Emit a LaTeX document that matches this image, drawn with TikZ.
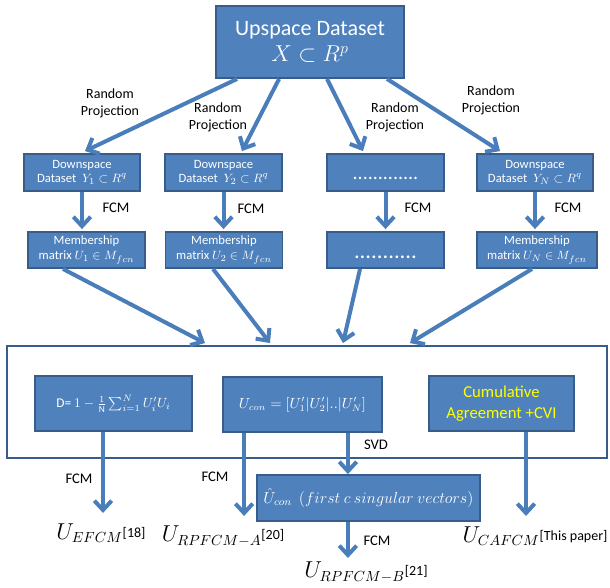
\documentclass[tikz,border=0pt]{standalone}
\usepackage{amsmath}
\usepackage{amssymb}
\usepackage{fontspec}
\setmainfont{Carlito}
\usepackage{tikz}
\usetikzlibrary{arrows.meta,calc}

\definecolor{boxfill}{RGB}{79,129,189}
\definecolor{boxline}{RGB}{56,93,138}
\definecolor{flowblue}{RGB}{74,126,187}
\definecolor{cviyellow}{RGB}{255,255,0}

\newcommand{\refmark}[1]{\raisebox{1.5pt}{\fontsize{10.5}{12}\selectfont[#1]}}

\begin{document}
\begin{tikzpicture}[x=0.75pt,y=0.75pt,yscale=-1,xscale=1,
  blk/.style={draw=boxline,fill=boxfill,line width=1.4pt,text=white,align=center,inner sep=0pt},
  dsbox/.style={blk,minimum width=87.5pt,minimum height=27.75pt,font=\fontsize{9.5}{10.5}\selectfont},
  mbox/.style={blk,minimum width=87.75pt,minimum height=27pt,font=\fontsize{9.5}{11}\selectfont},
  inbox/.style={blk,minimum height=41.25pt},
  flow/.style={draw=flowblue,line width=3pt,-{Straight Barb[length=7pt,width=13pt]}},
  lbl/.style={inner sep=0pt,align=center,text=black},
  rp/.style={lbl,font=\fontsize{10.5}{12.7}\selectfont},
  fcm/.style={lbl,font=\fontsize{11}{13}\selectfont},
  res/.style={lbl,font=\fontsize{16}{19}\selectfont}]
\useasboundingbox (0,0) rectangle (610,587);

%Shape: Rectangle
\node[blk,minimum width=141pt,minimum height=54pt,font=\fontsize{16.5}{20}\selectfont] (up) at (310,42) {Upspace Dataset\\$X\subset R^{p}$};

%Shape: Rectangle
\node[dsbox] (d1) at (82,172.5) {Downspace\\Dataset ~$Y_1\subset R^q$};
\node[dsbox] (d2) at (223.5,172.5) {Downspace\\Dataset ~$Y_2\subset R^q$};
\node[dsbox,font=\fontsize{15}{18}\selectfont] (d3) at (385.5,172.5) {\strut\raisebox{-2pt}{.............}};
\node[dsbox] (d4) at (535,172.5) {Downspace\\Dataset ~$Y_N\subset R^q$};

%Shape: Rectangle
\node[mbox] (m1) at (86.5,250) {Membership\\matrix $U_1\in M_{fcn}$};
\node[mbox] (m2) at (224,250) {Membership\\matrix $U_2\in M_{fcn}$};
\node[mbox,font=\fontsize{17}{20}\selectfont] (m3) at (385.5,250) {\strut\raisebox{-2pt}{...........}};
\node[mbox,minimum width=90pt] (m4) at (537,250) {Membership\\matrix $U_N\in M_{fcn}$};

%Shape: Rectangle
\node[draw=boxline,line width=1.4pt,fill=white,minimum width=450pt,minimum height=84pt,inner sep=0pt] (pool) at (307,402) {};
\node[inbox,minimum width=117.75pt,font=\fontsize{10}{12}\selectfont] (dbox) at (113.5,403.5) {D= $1-\frac{1}{\text{N}}\sum_{i=1}^{N}U_i'U_i$};
\node[inbox,minimum width=119.25pt,font=\fontsize{10.5}{12}\selectfont] (ucon) at (302.5,404.5) {$U_{con}=[U_1'|U_2'|..|U_N']$};
\node[inbox,minimum width=108.75pt,text=cviyellow,font=\fontsize{12.5}{16}\selectfont] (cum) at (501.5,403.5) {Cumulative\\Agreement +CVI};
\node[blk,minimum width=167.25pt,minimum height=34.5pt,font=\fontsize{11.5}{13}\selectfont] (hat) at (368.5,498) {$\hat{U}_{con}\ \ (first\ c\ singular\ vectors)$};

% Text Node
\node[rp] (rp1) at (110,103) {Random\\Projection};
\node[rp] (rp2) at (218,117) {Random\\Projection};
\node[rp] (rp3) at (395,117) {Random\\Projection};
\node[rp] (rp4) at (491,100) {Random\\Projection};
% Text Node
\node[fcm] (f1) at (116,208) {FCM};
\node[fcm] (f2) at (251,209) {FCM};
\node[fcm] (f3) at (418,208) {FCM};
\node[fcm] (f4) at (568,208) {FCM};
\node[fcm] (f5) at (79,479) {FCM};
\node[fcm] (f6) at (215,477) {FCM};
\node[fcm] (f7) at (377,541) {FCM};
\node[fcm] (svd) at (376,445) {SVD};
% Text Node
\node[res] (uefcm) at (101,533) {$U_{EFCM}$\refmark{18}};
\node[res] (urpa) at (223,536) {$U_{RPFCM-A}$\refmark{20}};
\node[res] (urpb) at (366,572) {$U_{RPFCM-B}$\refmark{21}};
\node[res] (ucaf) at (535,536) {$U_{CAFCM}$\refmark{This paper}};

%Straight Lines
\draw[flow] ($(up.south west)+(22,0)$) -- ($(d1.north)+(3,-2)$);
\draw[flow] ($(up.south west)+(64,0)$) -- ($(d2.north)+(18.5,-2)$);
\draw[flow] ($(up.south west)+(112,0)$) -- ($(d3.north)+(-22.5,-2)$);
\draw[flow] ($(up.south west)+(172,0)$) -- ($(d4.north)+(-35,-2)$);
%Straight Lines
\draw[flow] (d1.south) -- ($(d1.south |- m1.north)+(0,-2)$);
\draw[flow] (d2.south) -- ($(d2.south |- m2.north)+(0,-2)$);
\draw[flow] (d3.south) -- ($(d3.south |- m3.north)+(0,-2)$);
\draw[flow] (d4.south) -- ($(d4.south |- m4.north)+(0,-2)$);
%Straight Lines
\draw[flow] ($(m1.south)+(-23.5,0)$) -- ($(pool.north)+(-102,-2)$);
\draw[flow] ($(m2.south)+(-11,0)$) -- ($(pool.north)+(-37,-2)$);
\draw[flow] ($(m3.south)+(-25.5,0)$) -- ($(pool.north)+(36,-2)$);
\draw[flow] ($(m4.south)+(-5,0)$) -- ($(pool.north)+(103,-2)$);
%Straight Lines
\draw[flow] ($(dbox.south)+(-10.5,0)$) -- ++(0,81);
\draw[flow] ($(ucon.south west)+(22,0)$) -- ++(0,83);
\draw[flow] ($(ucon.south east)+(-35,0)$) coordinate (svdtop) -- (svdtop |- hat.north);
\draw[flow] (svdtop |- hat.south) -- ++(0,36);
\draw[flow] ($(cum.south)+(24.5,0)$) -- ++(0,84);

\end{tikzpicture}
\end{document}
